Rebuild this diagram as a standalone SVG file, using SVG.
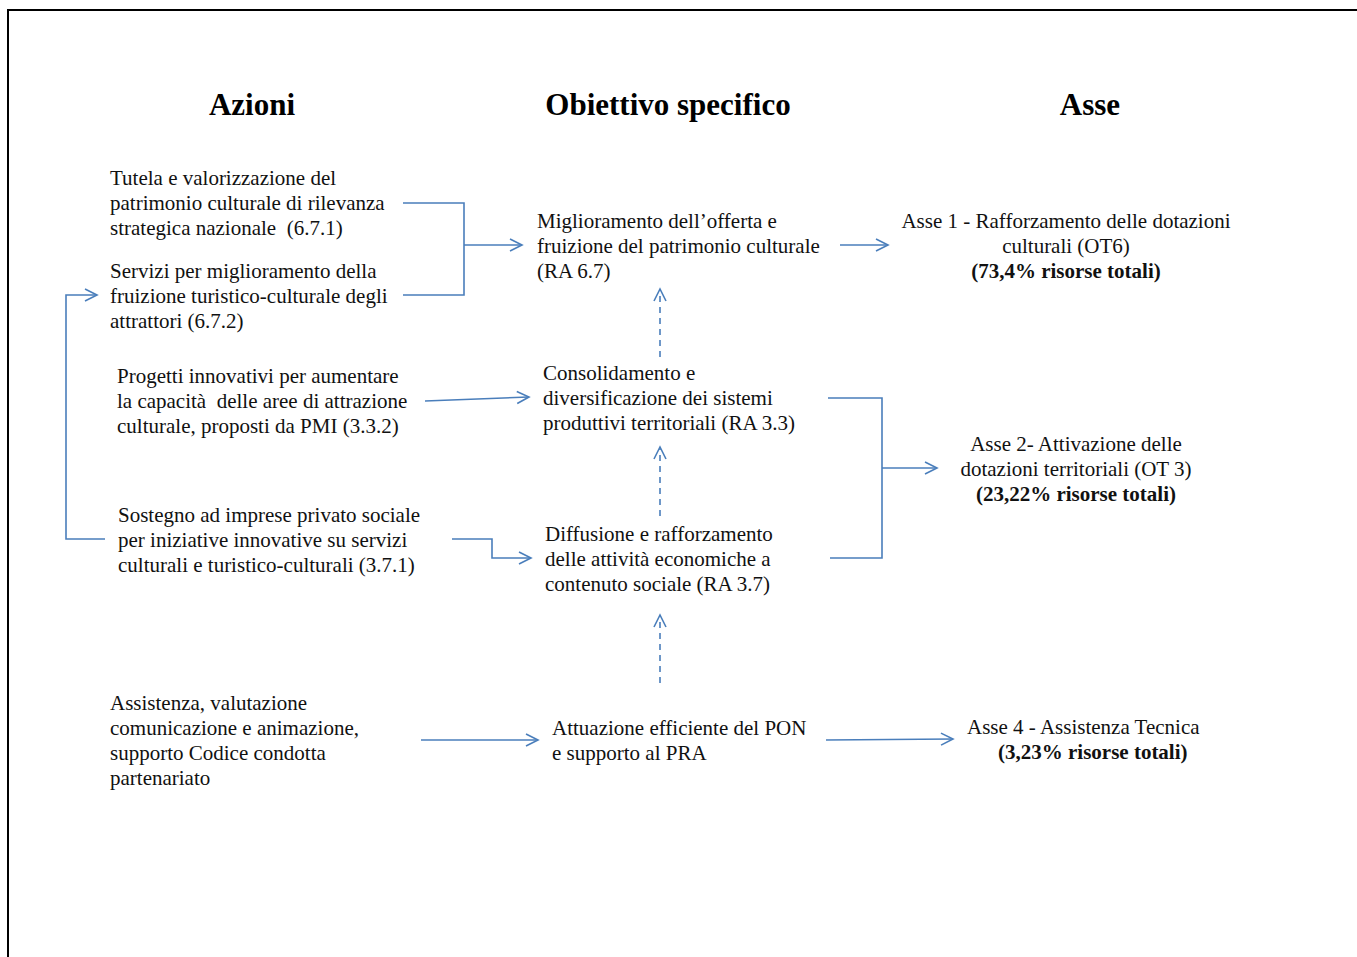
<svg xmlns="http://www.w3.org/2000/svg" width="1357" height="957" viewBox="0 0 1357 957">
<defs>
<marker id="arr" markerUnits="userSpaceOnUse" markerWidth="16" markerHeight="16" refX="13" refY="7" orient="auto">
<path d="M1,1 L13,7 L1,13" fill="none" stroke="#4a7ebb" stroke-width="1.6"/>
</marker>
<style>
.t{font-family:"Liberation Serif","Times New Roman",serif;font-size:21px;fill:#111}
.b{font-weight:bold}
.h{font-family:"Liberation Serif","Times New Roman",serif;font-size:31px;font-weight:bold;fill:#000;text-anchor:middle}
.c{text-anchor:middle}
.ln{fill:none;stroke:#4a7ebb;stroke-width:1.6}
.arr{marker-end:url(#arr)}
.dash{stroke-dasharray:6,5}
</style>
</defs>
<rect width="1357" height="957" fill="#fff"/>
<path d="M8,957 L8,10 L1357,10" fill="none" stroke="#000" stroke-width="2"/>

<g id="headers">
<text class="h" x="252" y="115">Azioni</text>
<text class="h" x="668" y="115">Obiettivo specifico</text>
<text class="h" x="1090" y="115">Asse</text>
</g>

<g id="azione-671">
<text class="t" x="110" y="185">Tutela e valorizzazione del</text>
<text class="t" x="110" y="210">patrimonio culturale di rilevanza</text>
<text class="t" x="110" y="235" xml:space="preserve">strategica nazionale  (6.7.1)</text>
</g>
<g id="azione-672">
<text class="t" x="110" y="278">Servizi per miglioramento della</text>
<text class="t" x="110" y="303">fruizione turistico-culturale degli</text>
<text class="t" x="110" y="328">attrattori (6.7.2)</text>
</g>
<g id="azione-332">
<text class="t" x="117" y="383">Progetti innovativi per aumentare</text>
<text class="t" x="117" y="408" xml:space="preserve">la capacità  delle aree di attrazione</text>
<text class="t" x="117" y="433">culturale, proposti da PMI (3.3.2)</text>
</g>
<g id="azione-371">
<text class="t" x="118" y="522">Sostegno ad imprese privato sociale</text>
<text class="t" x="118" y="547">per iniziative innovative su servizi</text>
<text class="t" x="118" y="572">culturali e turistico-culturali (3.7.1)</text>
</g>
<g id="azione-at">
<text class="t" x="110" y="710">Assistenza, valutazione</text>
<text class="t" x="110" y="735">comunicazione e animazione,</text>
<text class="t" x="110" y="760">supporto Codice condotta</text>
<text class="t" x="110" y="785">partenariato</text>
</g>

<g id="ra67">
<text class="t" x="537" y="228">Miglioramento dell’offerta e</text>
<text class="t" x="537" y="253">fruizione del patrimonio culturale</text>
<text class="t" x="537" y="278">(RA 6.7)</text>
</g>
<g id="ra33">
<text class="t" x="543" y="380">Consolidamento e</text>
<text class="t" x="543" y="405">diversificazione dei sistemi</text>
<text class="t" x="543" y="430">produttivi territoriali (RA 3.3)</text>
</g>
<g id="ra37">
<text class="t" x="545" y="541">Diffusione e rafforzamento</text>
<text class="t" x="545" y="566">delle attività economiche a</text>
<text class="t" x="545" y="591">contenuto sociale (RA 3.7)</text>
</g>
<g id="attuazione">
<text class="t" x="552" y="735">Attuazione efficiente del PON</text>
<text class="t" x="552" y="760">e supporto al PRA</text>
</g>

<g id="asse1">
<text class="t c" x="1066" y="228">Asse 1 - Rafforzamento delle dotazioni</text>
<text class="t c" x="1066" y="253">culturali (OT6)</text>
<text class="t c b" x="1066" y="278">(73,4% risorse totali)</text>
</g>
<g id="asse2">
<text class="t c" x="1076" y="451">Asse 2- Attivazione delle</text>
<text class="t c" x="1076" y="476">dotazioni territoriali (OT 3)</text>
<text class="t c b" x="1076" y="501">(23,22% risorse totali)</text>
</g>
<g id="asse4">
<text class="t" x="967" y="734">Asse 4 - Assistenza Tecnica</text>
<text class="t b" x="998" y="759">(3,23% risorse totali)</text>
</g>

<g id="connectors">
<path class="ln" d="M403,203 L464,203 L464,295 L403,295"/>
<path class="ln arr" d="M464,245 L522,245"/>
<path class="ln arr" d="M840,245 L888,245"/>
<path class="ln arr" d="M105,539 L66,539 L66,295 L97,295"/>
<path class="ln arr" d="M425,401 L529,397"/>
<path class="ln arr" d="M452,539 L492,539 L492,558 L531,558"/>
<path class="ln" d="M828,398 L882,398 L882,558 L830,558"/>
<path class="ln arr" d="M882,468 L937,468"/>
<path class="ln arr" d="M421,740 L538,740"/>
<path class="ln arr" d="M826,740 L953,739"/>
<path class="ln arr dash" d="M660,357 L660,289"/>
<path class="ln arr dash" d="M660,516 L660,447"/>
<path class="ln arr dash" d="M660,683 L660,615"/>
</g>
</svg>
